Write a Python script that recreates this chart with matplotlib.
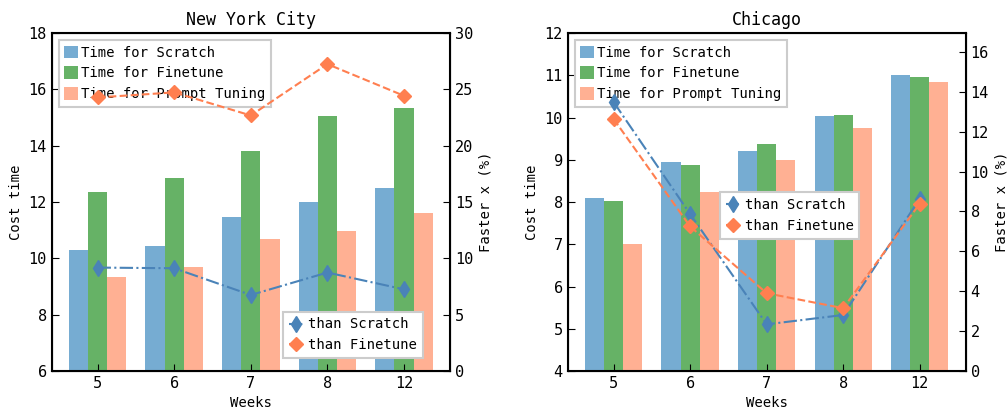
import numpy as np
import matplotlib
matplotlib.use('Agg')
import matplotlib.pyplot as plt

plt.rcParams['font.family'] = ['DejaVu Sans Mono']
plt.rcParams['font.size'] = 10

weeks = ['5', '6', '7', '8', '12']

# New York City
nyc_scratch = [10.3, 10.43, 11.47, 12.0, 12.5]
nyc_finetune = [12.35, 12.85, 13.8, 15.05, 15.33]
nyc_prompt = [9.33, 9.7, 10.68, 10.97, 11.6]
nyc_than_scratch = [9.18, 9.12, 6.75, 8.74, 7.25]
nyc_than_finetune = [24.28, 24.73, 22.68, 27.24, 24.43]

# Chicago
chi_scratch = [8.09, 8.94, 9.21, 10.04, 11.01]
chi_finetune = [8.03, 8.88, 9.38, 10.07, 10.97]
chi_prompt = [7.0, 8.23, 9.0, 9.76, 10.85]
chi_than_scratch = [13.49, 7.87, 2.34, 2.81, 8.64]
chi_than_finetune = [12.64, 7.25, 3.9, 3.15, 8.39]

c_scratch = '#76acd2'
c_finetune = '#66b266'
c_prompt = '#ffb093'
c_line1 = '#4a83b8'
c_line2 = '#ff7f50'


def draw(ax, title, scratch, finetune, prompt, than_s, than_f, ylim, ylim2, leg2_pos):
    x = np.arange(len(weeks))
    w = 0.25
    ax.bar(x - w, scratch, w, color=c_scratch, label='Time for Scratch')
    ax.bar(x, finetune, w, color=c_finetune, label='Time for Finetune')
    ax.bar(x + w, prompt, w, color=c_prompt, label='Time for Prompt Tuning')
    ax.set_ylim(*ylim)
    ax.set_xlim(-0.6, 4.6)
    ax.set_xticks(x)
    ax.set_xticklabels(weeks)
    ax.set_xlabel('Weeks')
    ax.set_ylabel('Cost time')
    ax.set_title(title, fontsize=12)
    ax.tick_params(direction='in', length=5, labelsize=11)
    for s in ax.spines.values():
        s.set_linewidth(1.5)
    leg = ax.legend(loc='upper left', handlelength=1.0, handleheight=1.0,
                    handletextpad=0.2, fancybox=False, edgecolor='#cccccc',
                    framealpha=1)
    leg.get_frame().set_linewidth(1.5)

    ax2 = ax.twinx()
    ax2.plot(x, than_s, '-.', color=c_line1, marker='d', markersize=8, label='than Scratch')
    ax2.plot(x, than_f, '--', color=c_line2, marker='D', markersize=7, label='than Finetune')
    ax2.set_ylim(*ylim2)
    ax2.set_ylabel('Faster x (%)')
    ax2.tick_params(direction='in', length=5, labelsize=11)
    leg2 = ax2.legend(loc='center', bbox_to_anchor=leg2_pos, handlelength=1.0,
                      handletextpad=0.4, fancybox=False, edgecolor='#cccccc',
                      framealpha=1)
    leg2.get_frame().set_linewidth(1.5)
    return ax2


fig = plt.figure(figsize=(10.07, 4.11), dpi=100)
ax_l = fig.add_axes([0.0513, 0.0973, 0.3955, 0.8224])
ax_r = fig.add_axes([0.5637, 0.0973, 0.3953, 0.8224])

draw(ax_l, 'New York City', nyc_scratch, nyc_finetune, nyc_prompt,
     nyc_than_scratch, nyc_than_finetune, (6, 18), (0, 30), (0.757, 0.107))
a2 = draw(ax_r, 'Chicago', chi_scratch, chi_finetune, chi_prompt,
          chi_than_scratch, chi_than_finetune, (4, 12), (0, 16.95), (0.558, 0.46))
a2.set_yticks([0, 2, 4, 6, 8, 10, 12, 14, 16])

fig.savefig('out.png', dpi=100)
